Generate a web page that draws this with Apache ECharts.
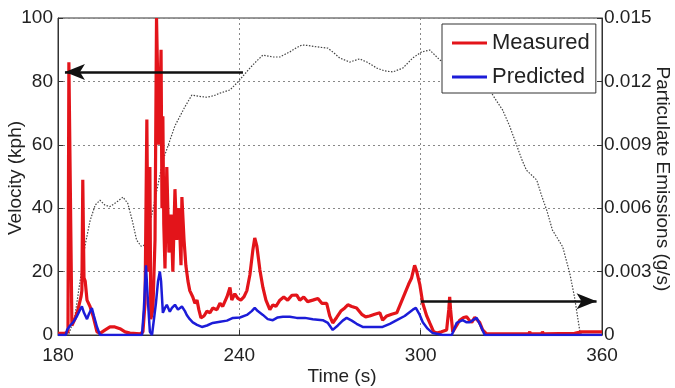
<!DOCTYPE html>
<html>
<head>
<meta charset="utf-8">
<script src="https://cdn.jsdelivr.net/npm/echarts@6/dist/echarts.min.js"></script>
<style>
html,body{margin:0;padding:0;background:#fff;}
#chart{width:675px;height:388px;}
</style>
</head>
<body>
<div id="chart"></div>
<script>
// ---- Data ----
const xTicks = [180, 240, 300, 360];
const leftTicks = [0, 20, 40, 60, 80, 100];
const rightTicks = [0, 0.003, 0.006, 0.009, 0.012, 0.015];

// Velocity (kph), left axis
const velocityTime = [180,183.5,185.6,187.3,188.9,190.6,192.3,193.9,195.5,197.2,199.5,201.5,203.1,204.6,206.0,207.5,208.8,211.5,214.7,218.7,222.0,224.3,226.6,229.3,231.6,233.6,236.9,239.5,241.5,243.5,245.8,247.8,249.5,251.1,253.4,255.0,256.7,258.7,260.7,263.0,265.6,269.3,271.3,273.2,276.5,279.8,282.2,285.5,288.2,290.8,294.1,297.4,300.3,303.0,306.3,311.3,316.3,322.8,325.0,327.1,329.4,331.7,333.4,335.0,338.4,340.0,341.7,343.6,347.0,349.3,350.9,352.6,353.2];
const velocity = [0,0,6,17,28,36,41,42.5,41,40.5,42,43.5,41.5,36,30,28,28.4,40,55,66,72,75.7,75.3,75,75.5,76.3,77.3,79.8,82,84.2,86.5,88.3,88,87.7,87.7,88.5,89.3,90.5,91.5,91.3,90.9,90.5,89,87.4,86.1,87.1,86.1,84.2,83.3,83,84.2,87.4,89.3,89.9,86.8,83.6,80.4,77.3,74,71,66,60,55.5,52,48.9,44,39.4,33.1,27.8,19.6,12,1.6,0];

// Measured particulate emissions (g/s), right axis
const measuredTime = [180,182.3,183.3,183.6,184.1,184.6,185.6,186.6,187.6,187.9,188.2,188.6,189.0,189.6,190.6,191.6,192.9,193.9,195.5,197.2,198.8,200.5,202.2,203.8,207.1,208.1,208.8,209.4,209.8,210.4,210.7,211.4,212.1,212.6,213.1,213.4,214.1,214.4,214.7,215.0,215.4,216.0,216.7,217.4,218.0,218.7,219.3,220.0,220.7,221.0,221.7,222.3,223.0,223.6,224.6,225.3,226.0,226.6,227.3,228.3,229.3,230.3,231.2,232.6,233.6,234.5,235.9,236.9,237.5,238.5,239.5,240.5,241.5,242.5,243.5,244.5,245.1,245.8,246.8,247.8,248.8,250.1,251.1,252.1,253.4,254.7,256.0,257.4,259.0,260.0,261.3,262.6,264.3,266.0,267.3,268.9,269.9,270.9,272.2,273.6,274.9,275.9,277.2,278.8,280.5,281.8,283.1,284.8,286.5,287.4,288.8,290.4,292.1,293.4,294.7,296.0,297.0,298.0,298.7,299.7,300.7,302.0,303.0,304.3,305.3,306.9,308.6,309.3,309.6,309.9,310.6,311.9,312.9,314.2,315.2,316.2,316.9,317.9,318.5,319.5,320.5,321.8,326.1,335.7,336.1,336.4,340.0,340.3,340.7,350.9,353.2,360];
const measured = [0.00008,0.00008,0.00015,0.0129,0.0129,0.00045,0.00075,0.0012,0.0018,0.0021,0.00735,0.0027,0.00255,0.00165,0.00135,0.0009,0.00015,0.00008,0.00023,0.00038,0.00038,0.0003,0.00015,0.00009,0.00005,0.00015,0.0015,0.0102,0.003,0.00795,0.00075,0.0012,0.0045,0.015,0.015,0.009,0.0135,0.006,0.01035,0.00525,0.00315,0.00795,0.0039,0.0057,0.003,0.0069,0.0045,0.006,0.0033,0.00653,0.0045,0.0033,0.00255,0.0021,0.0018,0.0015,0.00165,0.0012,0.00081,0.0009,0.00113,0.00105,0.00128,0.0012,0.0015,0.00135,0.0018,0.00225,0.00165,0.00195,0.00173,0.00165,0.0018,0.0021,0.00285,0.00405,0.00459,0.0042,0.00308,0.00225,0.00165,0.0012,0.00143,0.00135,0.00165,0.0018,0.00165,0.00188,0.00189,0.00165,0.0018,0.00158,0.00165,0.00173,0.0015,0.0015,0.0009,0.00057,0.00083,0.00113,0.00128,0.00143,0.00135,0.00128,0.00098,0.00086,0.0009,0.00098,0.00105,0.0007,0.0009,0.00098,0.00105,0.0015,0.00195,0.0024,0.0027,0.0033,0.003,0.0024,0.0015,0.0009,0.00057,0.00015,0.00009,0.00015,0.00024,0.0012,0.0018,0.0012,0.00015,0.00045,0.0007,0.00083,0.00086,0.00068,0.0006,0.00083,0.00086,0.0006,0.00024,0.00005,0.00005,0.00005,0.00015,0.00005,0.00005,0.00015,0.00005,0.00008,0.00015,0.00015];

// Predicted particulate emissions (g/s), right axis
const predictedTime = [180,182.6,183.0,184.0,185.0,186.3,187.3,187.9,188.6,189.6,190.2,191.2,191.9,192.9,193.9,207.8,208.4,209.1,209.8,210.4,211.1,211.7,212.4,213.1,213.7,214.1,214.7,215.4,216.0,217.0,217.7,218.7,219.7,221.0,222.0,222.6,223.6,224.6,226.0,227.6,229.3,231.2,233.6,235.9,237.9,240.2,242.5,244.1,245.1,246.1,247.8,249.4,251.1,252.7,254.4,256.7,259.0,261.7,264.3,267.6,269.3,270.9,272.6,274.2,275.5,277.2,278.8,280.8,283.1,285.5,287.4,289.8,292.1,294.7,297.4,298.4,299.7,300.7,302.3,304.0,307.3,310.3,311.9,313.9,315.2,316.2,318.5,319.8,321.2,360];
const predicted = [0,0,0.00024,0.00045,0.0006,0.0009,0.0012,0.00135,0.00105,0.00075,0.00098,0.00128,0.0009,0.00038,0,0,0.0012,0.0033,0.0015,0.00015,0,0,0.0015,0.00255,0.003,0.00255,0.00105,0.00128,0.00143,0.0011,0.00128,0.00143,0.0012,0.00135,0.00113,0.00095,0.00075,0.0006,0.00048,0.00038,0.00045,0.00057,0.00063,0.00068,0.00081,0.00083,0.00095,0.00113,0.00128,0.00113,0.00095,0.00075,0.0007,0.00083,0.00086,0.00086,0.00081,0.00081,0.00075,0.0007,0.00057,0.00024,0.00045,0.00068,0.00081,0.00068,0.00053,0.00038,0.00038,0.00038,0.00038,0.00053,0.0007,0.0009,0.0012,0.00128,0.00095,0.0006,0.0003,0.00009,0,0,0.00057,0.0007,0.0006,0.0006,0.00081,0.00045,0,0];

// Annotation arrows: [startTime, value] -> [endTime, value]
const velocityArrow = [[241.2, 83], [182.3, 83]];
const emissionArrow = [[300, 0.0016], [358.2, 0.0016]];

const seriesNames = ['Measured', 'Predicted'];
const axisTitles = { x: 'Time (s)', left: 'Velocity (kph)', right: 'Particulate Emissions (g/s)' };

// ---- Chart ----
const FONT = 'Liberation Sans, Arial, Helvetica, sans-serif';
const TXT = '#222';
const pairs = (xs, ys) => xs.map((x, i) => [x, ys[i]]);

const chart = echarts.init(document.getElementById('chart'), null, { renderer: 'canvas' });

const arrowLine = (seg) => ({
  silent: true,
  animation: false,
  symbol: ['none', 'arrow'],
  symbolSize: [12, 20],
  label: { show: false },
  emphasis: { disabled: true },
  lineStyle: { color: '#111', width: 2.5, type: 'solid' },
  data: [[{ coord: seg[0] }, { coord: seg[1] }]]
});

chart.setOption({
  animation: false,
  backgroundColor: '#fff',
  grid: { left: 58, right: 73, top: 18, bottom: 53, show: true, borderColor: '#333', borderWidth: 1, backgroundColor: 'transparent' },
  legend: {
    data: seriesNames,
    left: 442, top: 24,
    orient: 'vertical',
    padding: [8, 6, 5, 10],
    itemGap: 12,
    itemWidth: 35, itemHeight: 3,
    icon: 'rect',
    backgroundColor: '#fff',
    borderColor: '#333', borderWidth: 1, borderRadius: 0,
    textStyle: { fontFamily: FONT, fontSize: 22, color: TXT },
    selectedMode: false
  },
  xAxis: {
    type: 'value',
    min: xTicks[0], max: xTicks[xTicks.length - 1], interval: xTicks[1] - xTicks[0],
    axisLine: { show: true, onZero: false, lineStyle: { color: '#333', width: 1 } },
    axisTick: { show: true, inside: true, length: 5, lineStyle: { color: '#333' } },
    axisLabel: { fontFamily: FONT, fontSize: 19, color: TXT, margin: 11 },
    splitLine: { show: true, lineStyle: { color: '#888', type: [2, 3], width: 1 } }
  },
  yAxis: [
    {
      type: 'value', position: 'left',
      min: leftTicks[0], max: leftTicks[leftTicks.length - 1], interval: leftTicks[1] - leftTicks[0],
      axisLine: { show: true, lineStyle: { color: '#333', width: 1 } },
      axisTick: { show: true, inside: true, length: 5, lineStyle: { color: '#333' } },
      axisLabel: { fontFamily: FONT, fontSize: 19, color: TXT, margin: 5 },
      splitLine: { show: true, lineStyle: { color: '#888', type: [2, 3], width: 1 } }
    },
    {
      type: 'value', position: 'right',
      min: rightTicks[0], max: rightTicks[rightTicks.length - 1], interval: rightTicks[1] - rightTicks[0],
      axisLine: { show: true, lineStyle: { color: '#333', width: 1 } },
      axisTick: { show: true, inside: true, length: 5, lineStyle: { color: '#333' } },
      axisLabel: { fontFamily: FONT, fontSize: 19, color: TXT, margin: 2,
        formatter: v => (v === 0 ? '0' : v.toFixed(3)) },
      splitLine: { show: false }
    }
  ],
  graphic: [
    { type: 'text', x: 342, y: 377, silent: true,
      style: { text: axisTitles.x, fontFamily: FONT, fontSize: 19, fill: TXT, textAlign: 'center', textVerticalAlign: 'middle' } },
    { type: 'text', x: 16, y: 178, rotation: Math.PI / 2, silent: true,
      style: { text: axisTitles.left, fontFamily: FONT, fontSize: 19, fill: TXT, textAlign: 'center', textVerticalAlign: 'middle' } },
    { type: 'text', x: 662, y: 179, rotation: -Math.PI / 2, silent: true,
      style: { text: axisTitles.right, fontFamily: FONT, fontSize: 19, fill: TXT, textAlign: 'center', textVerticalAlign: 'middle' } }
  ],
  series: [
    {
      name: 'Velocity', type: 'line', yAxisIndex: 0,
      data: pairs(velocityTime, velocity),
      showSymbol: false, silent: true,
      lineStyle: { color: '#444', width: 1.2, type: [1.5, 1.5] },
      itemStyle: { color: '#444' },
      z: 2,
      markLine: arrowLine(velocityArrow)
    },
    {
      name: 'Measured', type: 'line', yAxisIndex: 1,
      data: pairs(measuredTime, measured),
      showSymbol: false, silent: true,
      lineStyle: { color: '#e3141a', width: 3.2 },
      itemStyle: { color: '#e3141a' },
      z: 3,
      markLine: arrowLine(emissionArrow)
    },
    {
      name: 'Predicted', type: 'line', yAxisIndex: 1,
      data: pairs(predictedTime, predicted),
      showSymbol: false, silent: true,
      lineStyle: { color: '#1c1cd8', width: 2.5 },
      itemStyle: { color: '#1c1cd8' },
      z: 4
    }
  ]
});
</script>
</body>
</html>
